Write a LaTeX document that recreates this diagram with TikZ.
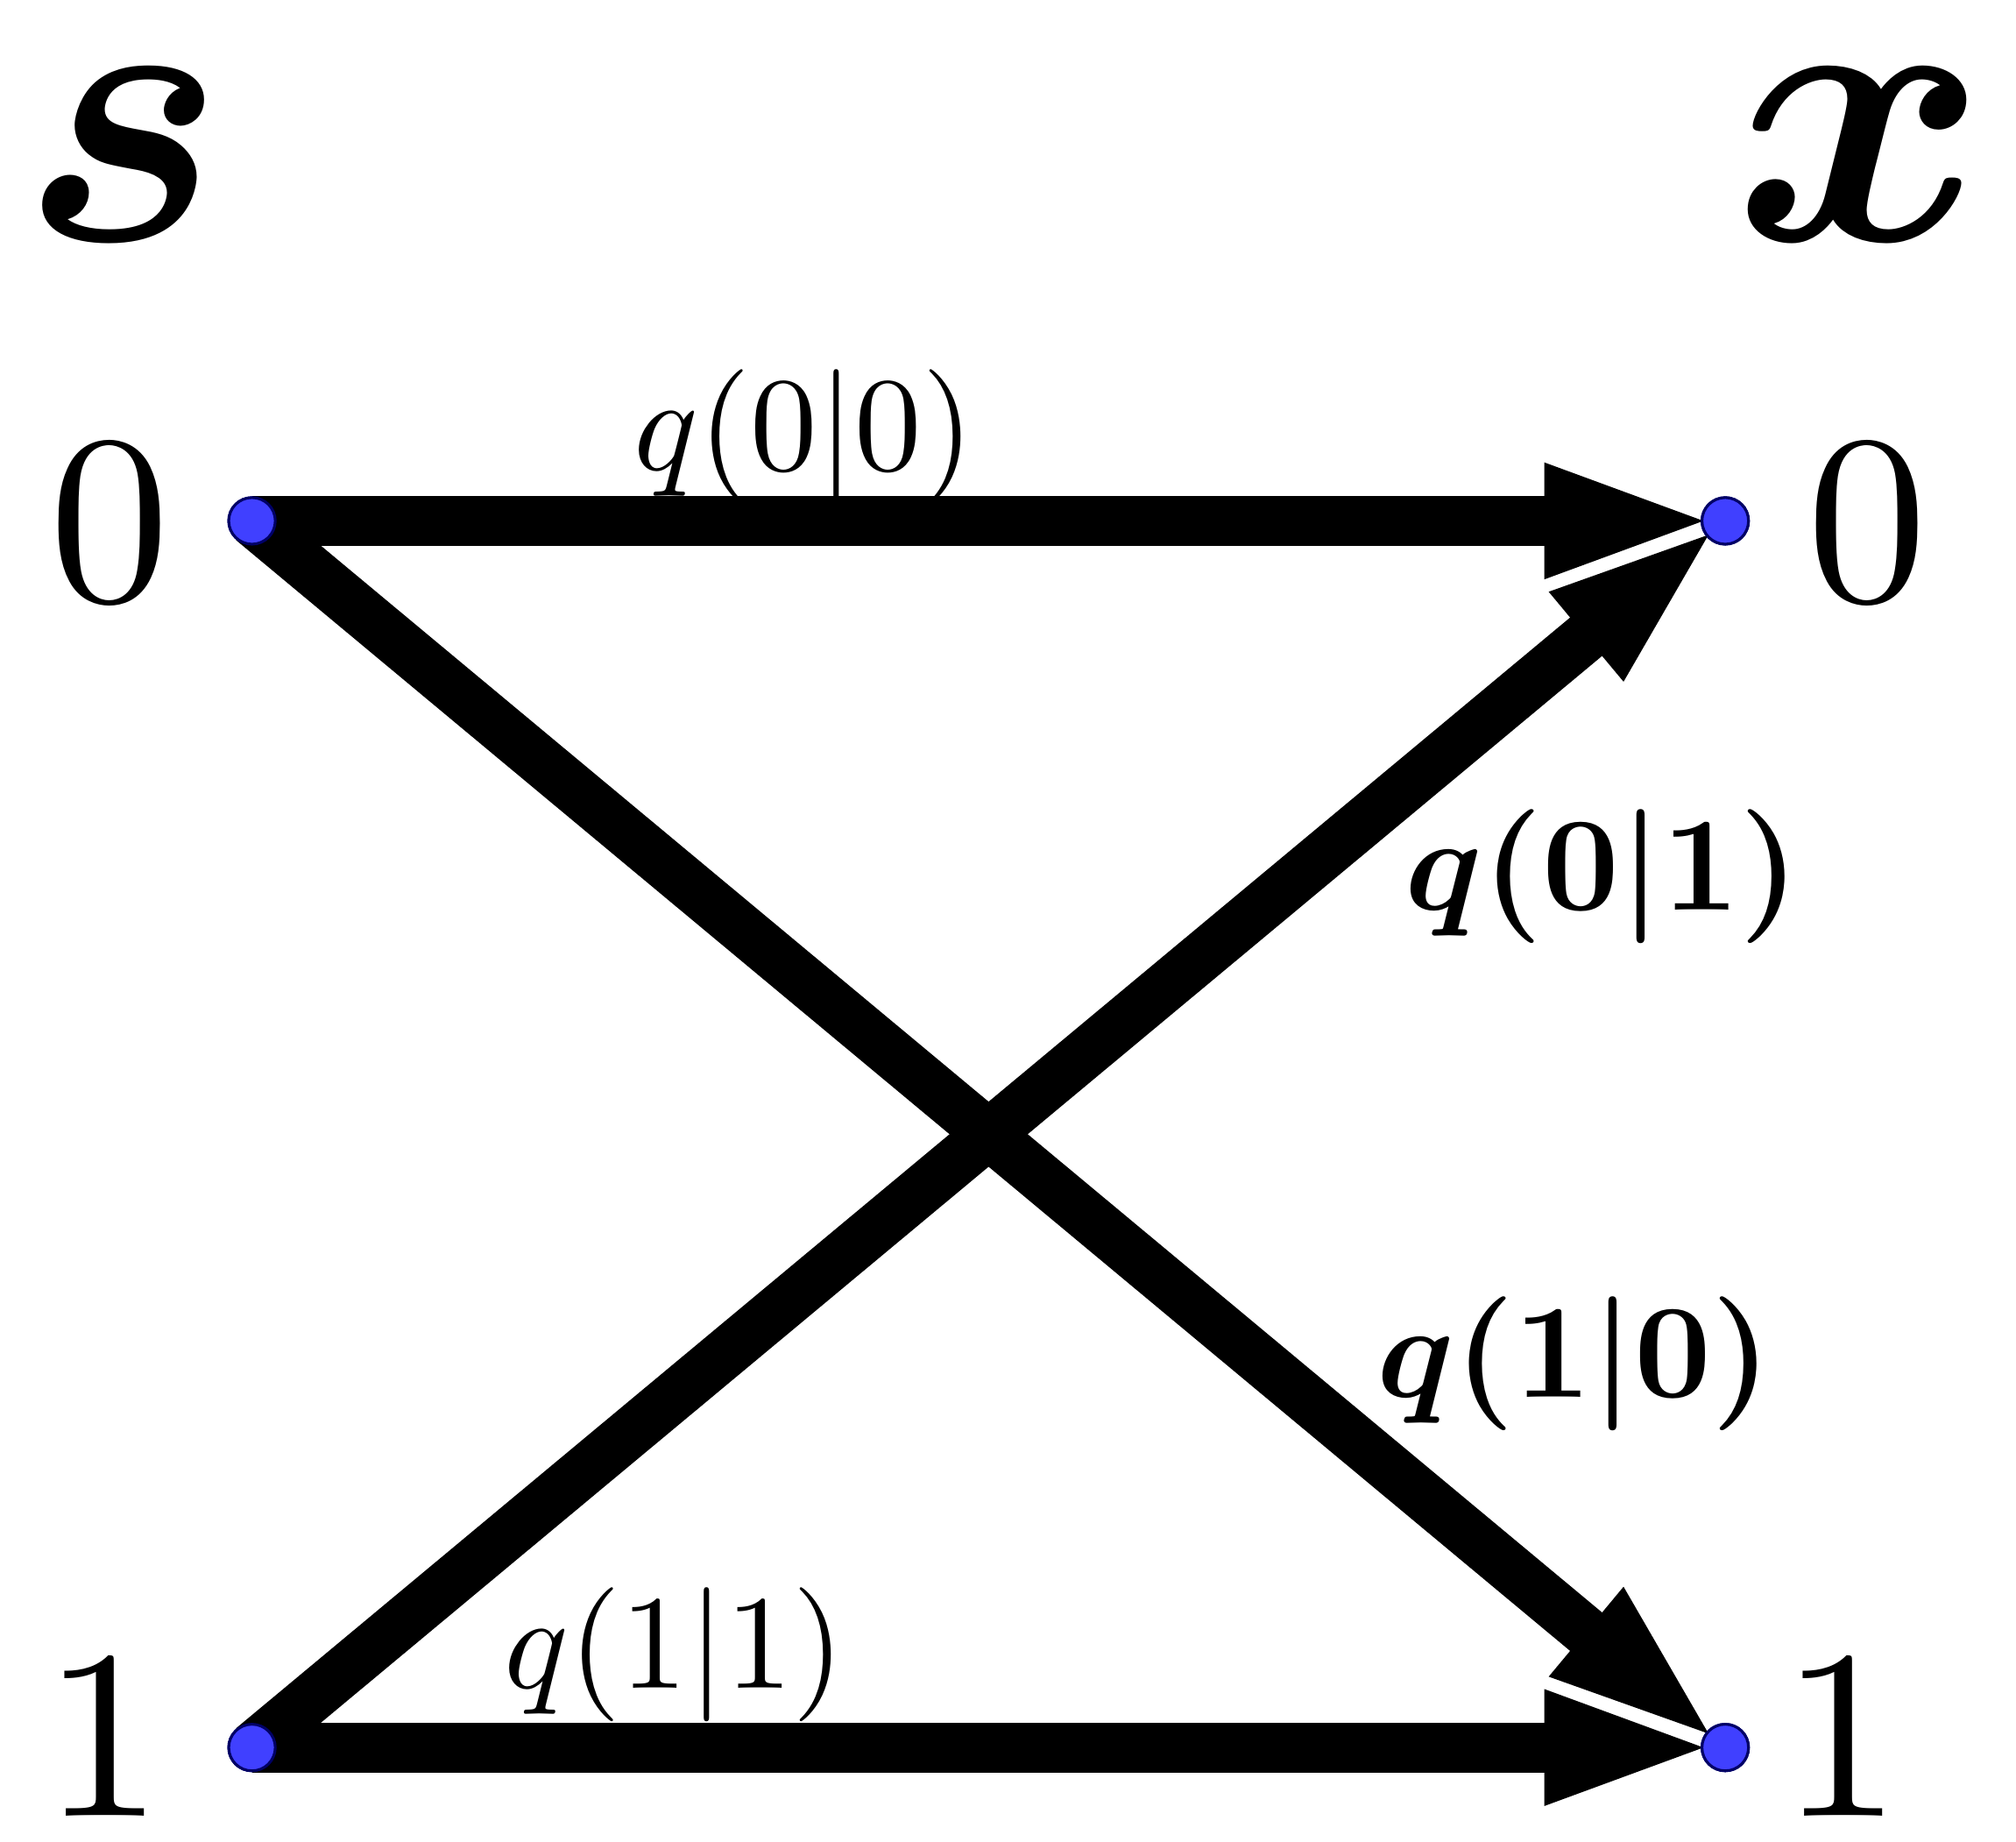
\documentclass[tikz,border=0pt]{standalone}
\usepackage{amsmath,bm}
\usetikzlibrary{arrows.meta}
\begin{document}
\begin{tikzpicture}[x=0.01cm,y=-0.01cm,
  dot/.style={circle,fill=blue!75!white,draw=blue!40!black,line width=0.6pt,inner sep=0pt,minimum size=0.36cm},
  edge/.style={line width=11pt,-{Triangle[length=1.35cm,width=0.78cm]},shorten >=0.05cm},
  big/.style={scale=5.3},
  huge/.style={scale=8.5},
  lab/.style={scale=2.95}]
\useasboundingbox (0,0) rectangle (1560,1425);
\node[dot] (s0) at (195,403) {};
\node[dot] (s1) at (195,1352) {};
\node[dot] (x0) at (1335,403) {};
\node[dot] (x1) at (1335,1352) {};
\draw[edge] (s0.center) -- (x0.center);
\draw[edge] (s1.center) -- (x1.center);
\draw[edge] (s0.center) -- (x1.center);
\draw[edge] (s1.center) -- (x0.center);
\node[dot] at (s0) {};
\node[dot] at (s1) {};
\node[dot] at (x0) {};
\node[dot] at (x1) {};
\node[big] (l0) at (85,405) {$0$};
\node[big] (l1) at (80,1345) {$1$};
\node[big] (r0) at (1445,405) {$0$};
\node[big] (r1) at (1425,1345) {$1$};
\node[huge] (S) at (95,120) {$\bm{s}$};
\node[huge] (X) at (1440,120) {$\bm{x}$};
\node[lab] (q00) at (622,338) {$q(0|0)$};
\node[lab] (q01) at (1240,678) {$\bm{q(0|1)}$};
\node[lab] (q10) at (1218,1055) {$\bm{q(1|0)}$};
\node[lab] (q11) at (522,1280) {$q(1|1)$};
\end{tikzpicture}
\end{document}
